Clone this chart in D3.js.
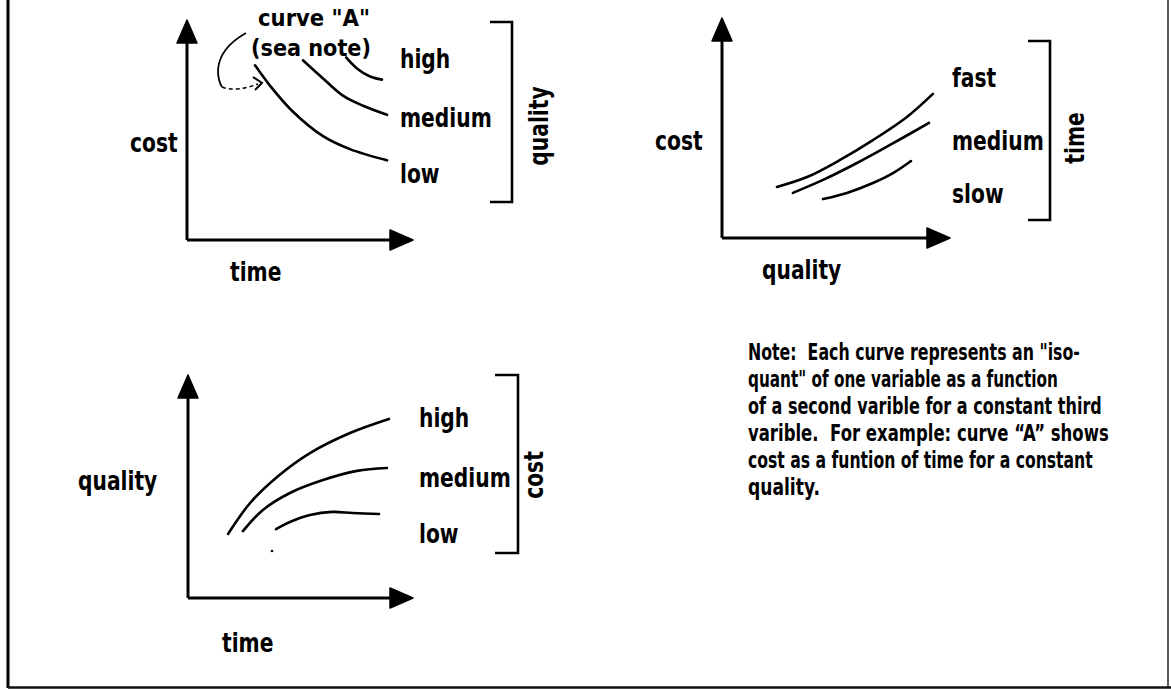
<!DOCTYPE html>
<html>
<head>
<meta charset="utf-8">
<script src="https://cdn.jsdelivr.net/npm/d3@7"></script>
<style>
html,body{margin:0;padding:0;background:#fff;}
svg{display:block;}
text{font-family:"DejaVu Sans","Liberation Sans",sans-serif;font-weight:bold;fill:#000;white-space:pre;}
</style>
</head>
<body>
<svg id="chart" width="1171" height="689"></svg>
<script>
// ---------- DATA (axes in 0..10 units) ----------
// Panel 1: cost vs time, iso-quality curves
const p1Levels = ["high", "medium", "low"];
const p1High   = [[7.04,8.30],[7.52,7.80],[8.10,7.43],[8.63,7.29]];
const p1Medium = [[5.13,8.17],[6.02,7.34],[6.90,6.56],[7.79,6.10],[8.85,5.69]];
const p1Low    = [[3.01,7.94],[3.67,7.02],[4.69,5.83],[6.02,4.72],[7.21,4.13],[8.85,3.62]];
// Panel 2: cost vs quality, iso-time curves
const p2Levels = ["fast", "medium", "slow"];
const p2Fast   = [[2.41,2.32],[3.73,2.77],[5.18,3.55],[6.62,4.45],[8.11,5.50],[9.25,6.55]];
const p2Medium = [[3.11,2.05],[4.43,2.64],[5.92,3.41],[7.37,4.23],[9.08,5.23]];
const p2Slow   = [[4.43,1.77],[5.48,2.05],[6.62,2.50],[7.50,2.95],[8.29,3.50]];
// Panel 3: quality vs time, iso-cost curves
const p3Levels = ["high", "medium", "low"];
const p3High   = [[1.78,2.87],[2.76,4.26],[3.96,5.43],[5.42,6.50],[7.20,7.40],[8.93,8.03]];
const p3Medium = [[2.44,3.00],[3.33,3.95],[4.53,4.71],[6.00,5.29],[7.51,5.70],[8.84,5.83]];
const p3Low    = [[3.91,3.09],[4.53,3.41],[5.42,3.72],[6.40,3.86],[7.33,3.81],[8.49,3.77]];
// Axis / bracket titles
const p1Titles = {x: "time", y: "cost", z: "quality"};
const p2Titles = {x: "quality", y: "cost", z: "time"};
const p3Titles = {x: "time", y: "quality", z: "cost"};
// Annotation and note
const curveALabel = ["curve \"A\"", "(sea note)"];
const noteLines = [
  "Note:  Each curve represents an \"iso-",
  "quant\" of one variable as a function",
  "of a second varible for a constant third",
  "varible.  For example: curve \u201CA\u201D shows",
  "cost as a funtion of time for a constant",
  "quality."
];

// ---------- DRAWING ----------
const svg = d3.select("#chart");
const LABEL_SIZE = 27, COND = 0.75;

// horizontally squeeze a text element to a given width (or factor) with a transform
function squeeze(t, x, y, opts) {
  const w = t.node().getComputedTextLength();
  const sx = opts.width ? opts.width / w : (opts.cond || COND);
  t.attr("x", 0).attr("y", 0);
  const rot = opts.rotate ? " rotate(-90)" : "";
  t.attr("transform", `translate(${x},${y})${rot} scale(${sx},1)`);
  return t;
}
function label(g, txt, x, y, opts = {}) {
  const t = g.append("text")
    .attr("font-size", opts.size || LABEL_SIZE)
    .attr("text-anchor", opts.anchor || "start")
    .text(txt);
  if (opts.rotate) t.attr("text-anchor", "middle").attr("dominant-baseline", "central");
  return squeeze(t, x, y, opts);
}

const line = d3.line().curve(d3.curveCatmullRom.alpha(0.5));

function panel(cfg) {
  const g = svg.append("g");
  const x = d3.scaleLinear().domain([0, 10]).range([cfg.x0, cfg.x1]);
  const y = d3.scaleLinear().domain([0, 10]).range([cfg.y0, cfg.y1]);
  const AL = 23, AW = 10; // arrow length / half width
  g.append("path").attr("d", `M${x(0)},${y(0)}V${y(10) + AL - 2}`)
    .attr("stroke", "#000").attr("stroke-width", 3).attr("fill", "none");
  g.append("path").attr("d", `M${x(0)},${y(0)}H${x(10) - AL + 2}`)
    .attr("stroke", "#000").attr("stroke-width", 3).attr("fill", "none");
  g.append("path").attr("d", `M${x(0)},${y(10)}L${x(0) - AW},${y(10) + AL}L${x(0) + AW},${y(10) + AL}Z`)
    .attr("fill", "#000").attr("stroke", "#000").attr("stroke-width", 1.5).attr("stroke-linejoin", "round");
  g.append("path").attr("d", `M${x(10)},${y(0)}L${x(10) - AL},${y(0) - AW}L${x(10) - AL},${y(0) + AW}Z`)
    .attr("fill", "#000").attr("stroke", "#000").attr("stroke-width", 1.5).attr("stroke-linejoin", "round");
  cfg.curves.forEach(c => {
    g.append("path").attr("d", line(c.map(d => [x(d[0]), y(d[1])])))
      .attr("stroke", "#000").attr("stroke-width", 2.6).attr("fill", "none")
      .attr("stroke-linecap", "round");
  });
  cfg.levels.forEach((lv, i) => label(g, lv, cfg.labelX, cfg.labelY[i]));
  const b = cfg.bracket;
  g.append("path").attr("d", `M${b.x0},${b.top}H${b.x1}V${b.bottom}H${b.x0}`)
    .attr("stroke", "#000").attr("stroke-width", 2.6).attr("fill", "none");
  label(g, cfg.titles.z, b.tx, b.ty, {rotate: true});
  label(g, cfg.titles.y, cfg.yTitle[0], cfg.yTitle[1]);
  label(g, cfg.titles.x, cfg.xTitle[0], cfg.xTitle[1]);
  return {g, x, y};
}

panel({
  x0: 187, x1: 413, y0: 240, y1: 20,
  curves: [p1High, p1Medium, p1Low], levels: p1Levels,
  labelX: 400, labelY: [68, 127, 183],
  bracket: {x0: 490, x1: 512, top: 22, bottom: 202, tx: 539, ty: 126},
  titles: p1Titles, yTitle: [130, 152], xTitle: [230, 281]
});
panel({
  x0: 722, x1: 950, y0: 238, y1: 18,
  curves: [p2Fast, p2Medium, p2Slow], levels: p2Levels,
  labelX: 952, labelY: [87, 150, 203],
  bracket: {x0: 1028, x1: 1050, top: 41, bottom: 220, tx: 1075, ty: 138},
  titles: p2Titles, yTitle: [655, 150], xTitle: [762, 279]
});
panel({
  x0: 188, x1: 413, y0: 598, y1: 375,
  curves: [p3High, p3Medium, p3Low], levels: p3Levels,
  labelX: 419, labelY: [427, 487, 543],
  bracket: {x0: 495, x1: 518, top: 375, bottom: 553, tx: 534, ty: 475},
  titles: p3Titles, yTitle: [78, 490], xTitle: [222, 652]
});

svg.append("circle").attr("cx", 272).attr("cy", 551).attr("r", 1.3).attr("fill", "#000");

// curve "A" annotation
const ann = svg.append("g");
label(ann, curveALabel[0], 314, 26, {anchor: "middle", size: 23, width: 112});
label(ann, curveALabel[1], 311, 56, {anchor: "middle", size: 23, width: 120});
ann.append("path").attr("d", "M246,33 C230,42 219,54 218,70 C218,78 220,84 222,87")
  .attr("stroke", "#000").attr("stroke-width", 1.8).attr("fill", "none");
ann.append("path").attr("d", "M222,87 C232,91 245,89 258,84")
  .attr("stroke", "#000").attr("stroke-width", 1.5).attr("fill", "none")
  .attr("stroke-dasharray", "4,3");
ann.append("path").attr("d", "M253,77 L262,83 L255,90")
  .attr("stroke", "#000").attr("stroke-width", 2).attr("fill", "none");

const noteWidths = [332, 310, 354, 361, 345, 72];
const noteG = svg.append("g");
noteLines.forEach((txt, i) => {
  const t = noteG.append("text").attr("font-size", 23).text(txt);
  squeeze(t, 748, 360 + i * 27, {width: noteWidths[i]});
});

// frame
svg.append("line").attr("x1", 8).attr("x2", 8).attr("y1", 0).attr("y2", 688)
  .attr("stroke", "#000").attr("stroke-width", 3);
svg.append("line").attr("x1", 1168).attr("x2", 1168).attr("y1", 0).attr("y2", 688)
  .attr("stroke", "#222").attr("stroke-width", 1.5);
svg.append("line").attr("x1", 8).attr("x2", 1171).attr("y1", 687.5).attr("y2", 687.5)
  .attr("stroke", "#111").attr("stroke-width", 2.5);
</script>
</body>
</html>
